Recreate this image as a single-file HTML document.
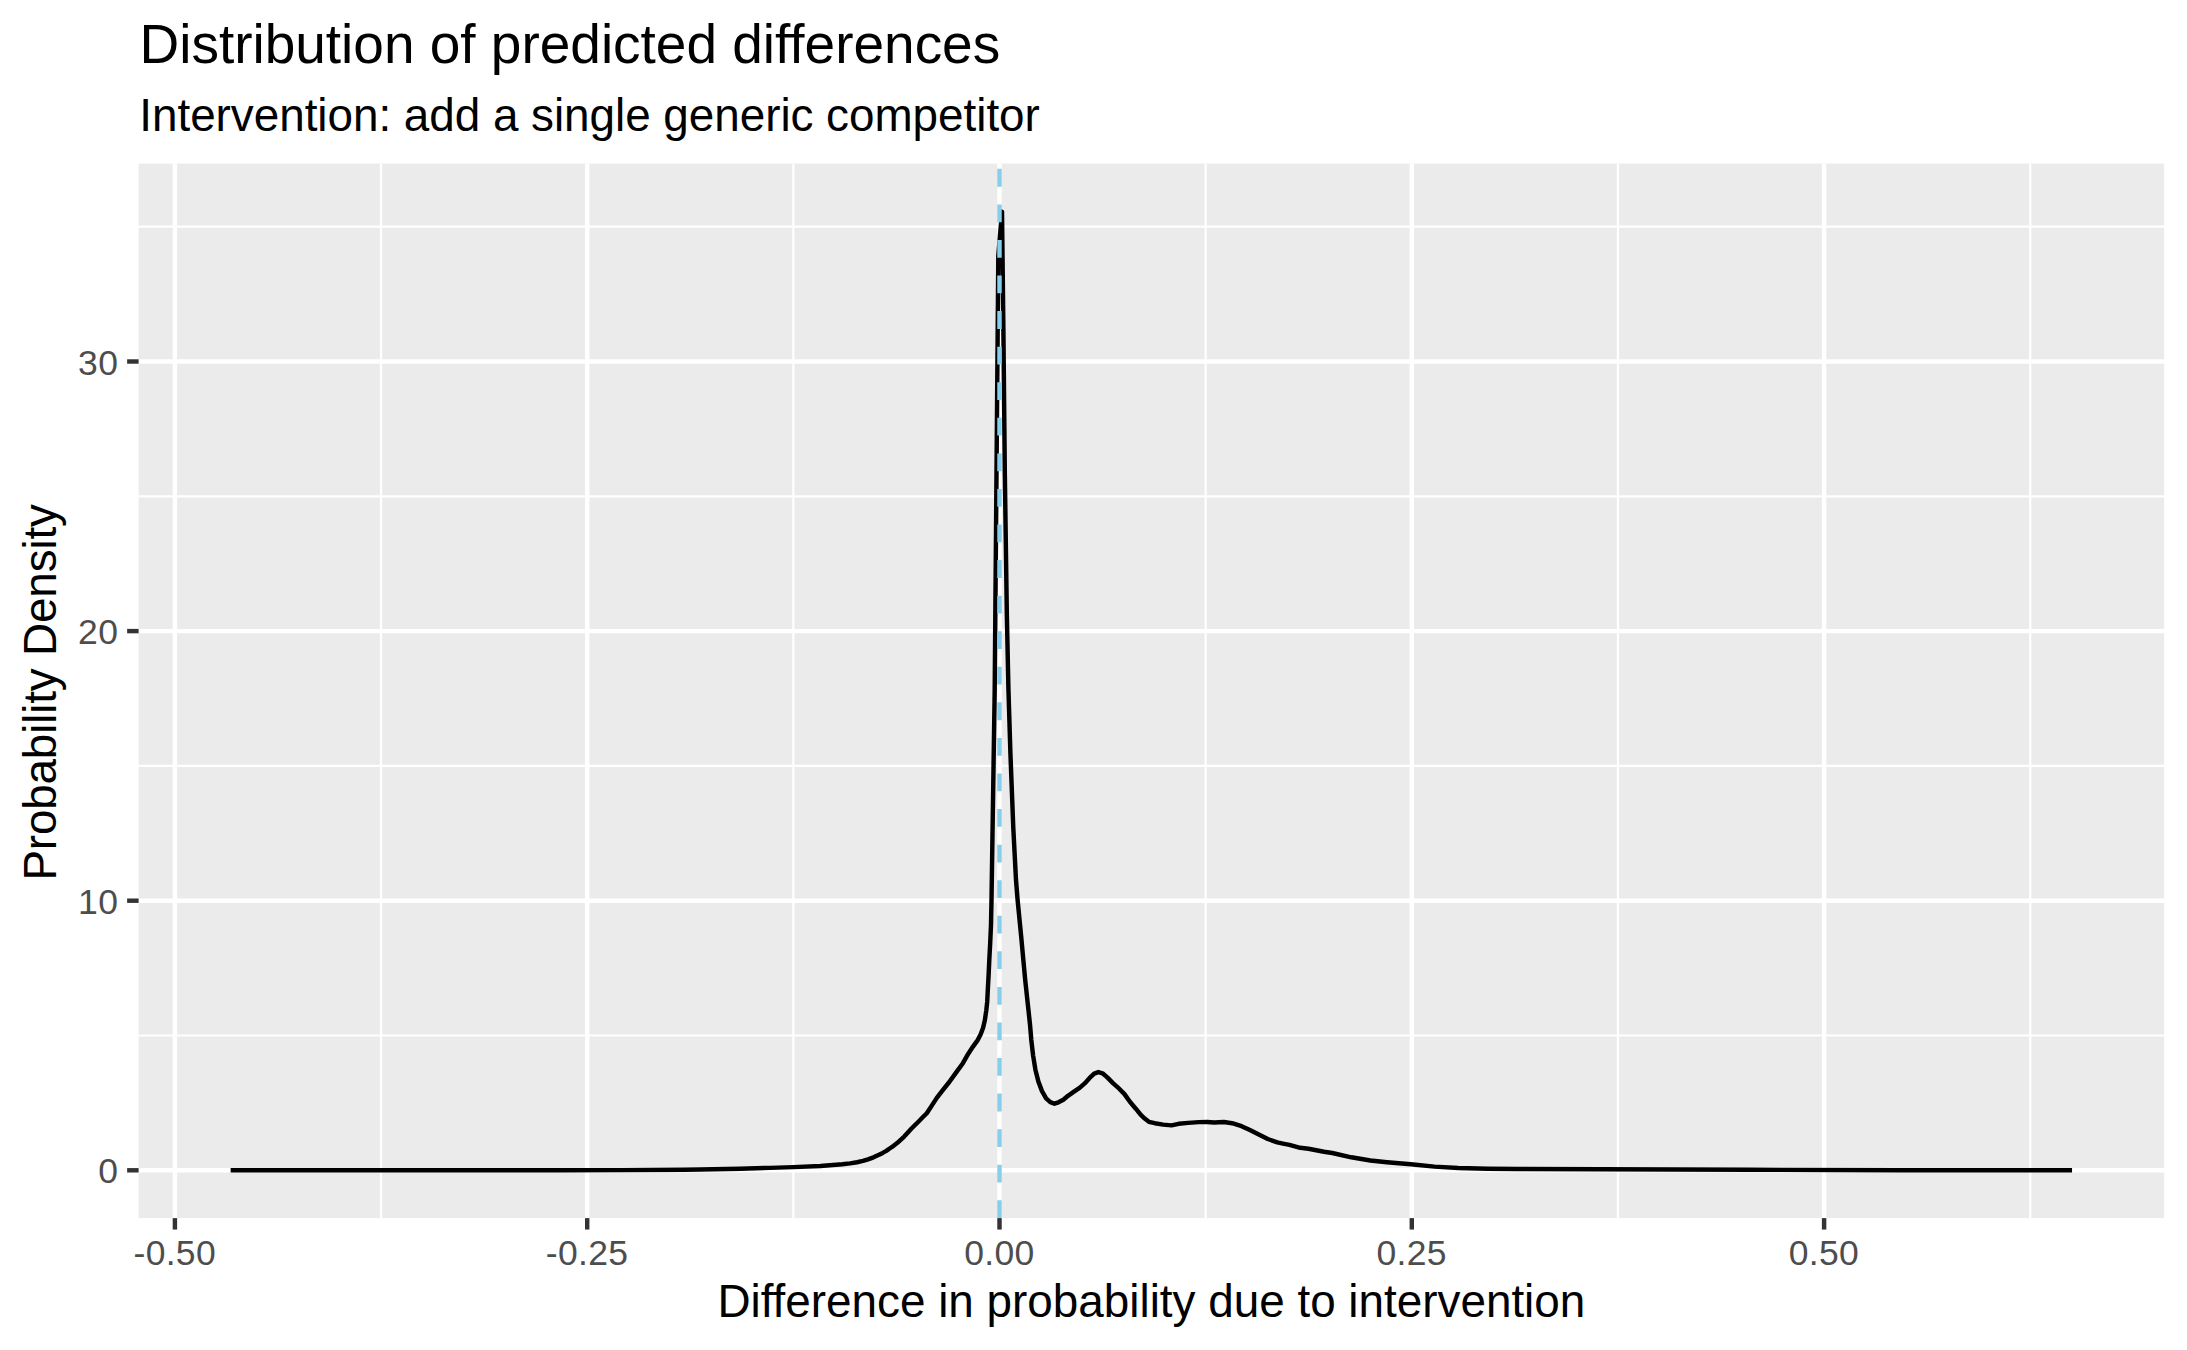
<!DOCTYPE html>
<html lang="en"><head><meta charset="utf-8"><title>Distribution of predicted differences</title>
<style>html,body{margin:0;padding:0;background:#fff}svg{display:block}text{font-family:"Liberation Sans",Arial,Helvetica,sans-serif}</style></head><body>
<svg width="2187" height="1350" viewBox="0 0 2187 1350">
<rect width="2187" height="1350" fill="#fff"/>
<rect x="138.6" y="163.6" width="2025.50" height="1054.50" fill="#EBEBEB"/>
<g stroke="#fff" stroke-width="2.223" fill="none">
<line x1="138.6" x2="2164.1" y1="1035.50" y2="1035.50"/>
<line x1="138.6" x2="2164.1" y1="765.90" y2="765.90"/>
<line x1="138.6" x2="2164.1" y1="496.30" y2="496.30"/>
<line x1="138.6" x2="2164.1" y1="226.70" y2="226.70"/>
<line y1="163.6" y2="1218.1" x1="381.05" x2="381.05"/>
<line y1="163.6" y2="1218.1" x1="793.35" x2="793.35"/>
<line y1="163.6" y2="1218.1" x1="1205.65" x2="1205.65"/>
<line y1="163.6" y2="1218.1" x1="1617.95" x2="1617.95"/>
<line y1="163.6" y2="1218.1" x1="2030.25" x2="2030.25"/>
</g>
<g stroke="#fff" stroke-width="4.446" fill="none">
<line x1="138.6" x2="2164.1" y1="1170.30" y2="1170.30"/>
<line x1="138.6" x2="2164.1" y1="900.70" y2="900.70"/>
<line x1="138.6" x2="2164.1" y1="631.10" y2="631.10"/>
<line x1="138.6" x2="2164.1" y1="361.50" y2="361.50"/>
<line y1="163.6" y2="1218.1" x1="174.90" x2="174.90"/>
<line y1="163.6" y2="1218.1" x1="587.20" x2="587.20"/>
<line y1="163.6" y2="1218.1" x1="999.50" x2="999.50"/>
<line y1="163.6" y2="1218.1" x1="1411.80" x2="1411.80"/>
<line y1="163.6" y2="1218.1" x1="1824.10" x2="1824.10"/>
</g>
<polyline points="230.65,1170.30 500.00,1170.30 560.00,1170.25 622.00,1170.10 684.00,1169.70 700.00,1169.50 740.00,1168.70 770.00,1167.85 793.40,1167.10 820.50,1165.95 842.40,1164.30 850.00,1163.40 857.00,1162.25 863.00,1160.90 868.00,1159.30 873.50,1157.30 879.00,1154.80 882.70,1152.90 886.30,1150.90 890.00,1148.30 893.60,1145.80 897.10,1143.10 904.20,1136.60 911.30,1128.80 919.60,1120.50 923.20,1116.80 926.80,1113.20 932.10,1105.10 936.80,1097.90 942.20,1090.90 949.30,1082.00 956.40,1072.10 962.90,1063.20 968.30,1053.70 973.00,1046.60 977.70,1040.10 980.70,1034.20 983.10,1027.70 984.90,1020.00 986.30,1010.20 987.20,1001.90 987.80,990.00 988.60,975.00 989.30,960.00 990.20,943.00 991.00,925.00 991.50,900.00 994.70,690.00 998.30,256.00 1002.00,211.60 1003.40,330.00 1004.85,475.00 1006.85,615.00 1008.40,688.00 1010.40,753.00 1013.30,828.00 1016.00,880.00 1017.60,900.00 1021.10,935.60 1025.20,980.00 1030.00,1024.40 1031.30,1040.00 1033.10,1055.50 1035.40,1069.70 1038.40,1081.60 1042.00,1091.10 1046.10,1098.30 1050.30,1102.10 1054.40,1103.70 1058.50,1102.30 1063.30,1099.80 1068.00,1095.80 1074.00,1091.70 1079.90,1087.70 1084.70,1083.40 1089.40,1078.20 1094.20,1073.60 1098.40,1072.10 1102.50,1073.30 1107.30,1077.40 1113.20,1083.40 1119.20,1088.70 1124.50,1094.10 1129.90,1101.80 1135.80,1108.70 1140.60,1114.70 1144.70,1118.60 1148.90,1121.80 1154.80,1123.20 1163.20,1124.60 1171.50,1125.40 1178.60,1123.80 1188.10,1122.90 1198.80,1122.10 1207.10,1122.00 1214.30,1122.50 1223.80,1122.00 1232.10,1123.20 1241.60,1126.20 1249.90,1130.10 1258.30,1134.30 1267.80,1139.00 1277.30,1142.40 1283.00,1143.60 1289.50,1144.90 1300.20,1147.80 1308.50,1148.70 1324.00,1151.70 1332.30,1153.00 1351.30,1157.30 1370.40,1160.50 1387.00,1162.20 1410.80,1164.20 1434.50,1166.60 1458.30,1168.00 1488.00,1168.70 1517.80,1169.00 1600.00,1169.30 1750.00,1169.80 1900.00,1170.20 2072.05,1170.30" fill="none" stroke="#000" stroke-width="4.446" stroke-linejoin="round" stroke-linecap="butt"/>
<line x1="999.5" x2="999.5" y1="1218.1" y2="163.6" stroke="#87CEEB" stroke-width="4.446" stroke-dasharray="17.784 17.784"/>
<g stroke="#333" stroke-width="4.446">
<line x1="127.14" x2="138.6" y1="1170.30" y2="1170.30"/>
<line x1="127.14" x2="138.6" y1="900.70" y2="900.70"/>
<line x1="127.14" x2="138.6" y1="631.10" y2="631.10"/>
<line x1="127.14" x2="138.6" y1="361.50" y2="361.50"/>
<line y1="1218.1" y2="1229.56" x1="174.90" x2="174.90"/>
<line y1="1218.1" y2="1229.56" x1="587.20" x2="587.20"/>
<line y1="1218.1" y2="1229.56" x1="999.50" x2="999.50"/>
<line y1="1218.1" y2="1229.56" x1="1411.80" x2="1411.80"/>
<line y1="1218.1" y2="1229.56" x1="1824.10" x2="1824.10"/>
</g>
<g fill="#4D4D4D" font-size="35.5" letter-spacing="0.3">
<text x="118.20" y="1182.70" text-anchor="end">0</text>
<text x="118.20" y="913.85" text-anchor="end">10</text>
<text x="118.20" y="643.70" text-anchor="end">20</text>
<text x="118.20" y="374.80" text-anchor="end">30</text>
<text x="174.75" y="1265.0" text-anchor="middle">-0.50</text>
<text x="587.05" y="1265.0" text-anchor="middle">-0.25</text>
<text x="999.35" y="1265.0" text-anchor="middle">0.00</text>
<text x="1411.65" y="1265.0" text-anchor="middle">0.25</text>
<text x="1823.95" y="1265.0" text-anchor="middle">0.50</text>
</g>
<text x="139.5" y="62.9" font-size="55" fill="#000" textLength="860.7" lengthAdjust="spacing">Distribution of predicted differences</text>
<text x="139.3" y="131" font-size="45.83" fill="#000" textLength="900.5" lengthAdjust="spacing">Intervention: add a single generic competitor</text>
<text x="1151.35" y="1317.1" font-size="45.83" fill="#000" text-anchor="middle">Difference in probability due to intervention</text>
<text transform="translate(56,692.35) rotate(-90)" font-size="45.83" fill="#000" text-anchor="middle" textLength="376.5" lengthAdjust="spacing">Probability Density</text>
</svg></body></html>
